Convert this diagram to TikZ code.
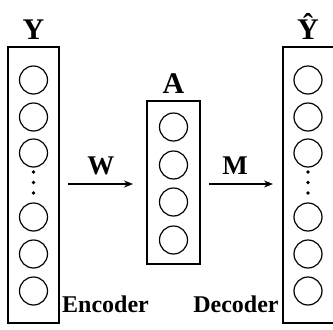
\documentclass[tikz,border=0pt]{standalone}
\usepackage{fontspec}
\setmainfont{Liberation Serif}
\usetikzlibrary{arrows.meta}
\begin{document}
\begin{tikzpicture}[x=1pt,y=-1pt,
  layer/.style={draw,line width=1.3pt,fill=none},
  unit/.style={circle,draw,line width=1.2pt,minimum size=28pt,inner sep=0pt},
  dotn/.style={circle,fill,inner sep=0pt,minimum size=3.6pt},
  biglbl/.style={font=\bfseries\fontsize{30}{30}\selectfont,anchor=base,inner sep=0pt},
  arrlbl/.style={font=\bfseries\fontsize{27}{27}\selectfont,anchor=base,inner sep=0pt},
  caplbl/.style={font=\bfseries\fontsize{24}{24}\selectfont,anchor=base,inner sep=0pt},
  conn/.style={line width=1.4pt,-{Stealth[length=9pt,width=7pt]}}]
\useasboundingbox (0,0) rectangle (333,330);
% boxes
\draw[layer] (8,47) rectangle (59,323);
\draw[layer] (147,101) rectangle (200,264);
\draw[layer] (283,47) rectangle (340,323);
% input units
\foreach \i/\yy in {1/80,2/117,3/153,4/217,5/254,6/291}
  \node[unit] (y\i) at (33.5,\yy) {};
\foreach \i/\yy in {1/172,2/182.5,3/193}
  \node[dotn] (yd\i) at (33.5,\yy) {};
% hidden units
\foreach \i/\yy in {1/127,2/165,3/202,4/240}
  \node[unit] (a\i) at (173.5,\yy) {};
% output units
\foreach \i/\yy in {1/80,2/117,3/153,4/217,5/254,6/291}
  \node[unit] (z\i) at (308,\yy) {};
\foreach \i/\yy in {1/172,2/182.5,3/193}
  \node[dotn] (zd\i) at (308,\yy) {};
% labels
\node[biglbl] (ly) at (33.5,39) {Y};
\node[biglbl] (la) at (173.5,93) {A};
\node[biglbl] (lz) at (308,39) {Ŷ};
\coordinate (w0) at (68,184);
\coordinate (w1) at (133,184);
\coordinate (m0) at (209,184);
\coordinate (m1) at (273,184);
\draw[conn] (w0) -- (w1);
\draw[conn] (m0) -- (m1);
\node[arrlbl] (lw) at (101,174) {W};
\node[arrlbl] (lm) at (235,174) {M};
\node[caplbl] (enc) at (105.5,312) {Encoder};
\node[caplbl] (dec) at (236,312) {Decoder};
\end{tikzpicture}
\end{document}
